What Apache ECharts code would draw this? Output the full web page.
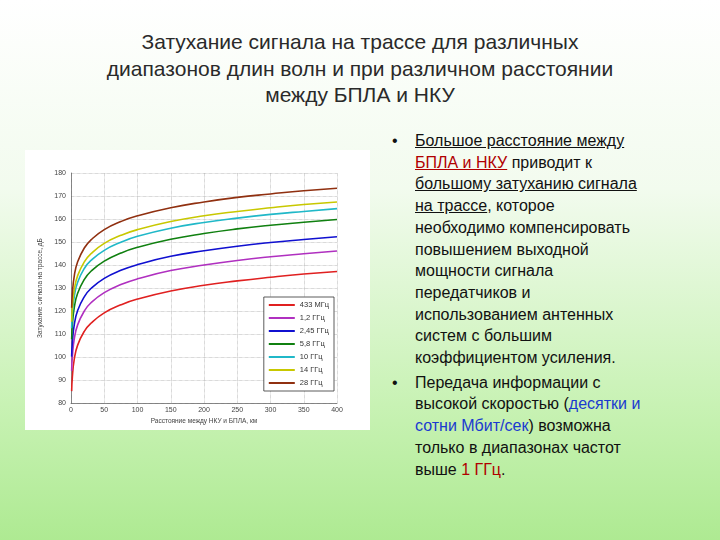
<!DOCTYPE html>
<html><head><meta charset="utf-8">
<script src="https://cdn.jsdelivr.net/npm/echarts@6/dist/echarts.min.js"></script>
<style>
html,body{margin:0;padding:0;width:720px;height:540px;overflow:hidden;}
body{background:linear-gradient(to bottom,#ffffff 0%,#f2fbee 35%,#c8f2b4 75%,#aeea92 100%);font-family:Arial,"Liberation Sans",sans-serif;position:relative;}
#title{position:absolute;left:40px;top:29px;width:640px;text-align:center;font-size:21px;line-height:26.5px;color:#2a2a2a;}
#chart{position:absolute;left:25px;top:150px;width:345px;height:280px;background:#fff;}
#text{position:absolute;left:385px;top:130px;width:300px;font-size:16px;line-height:21.7px;color:#111;}
.b{position:relative;padding-left:30px;}
.b:before{content:"•";position:absolute;left:7px;top:0;}
.r{color:#b00000;} .bl{color:#1a3ad0;} u{text-decoration:underline;}
</style></head><body>
<div id="title">Затухание сигнала на трассе для различных<br>диапазонов длин волн и при различном расстоянии<br>между БПЛА и НКУ</div>
<div id="chart"></div>
<div id="text">
<div class="b"><u>Большое расстояние между</u><br><u class="r">БПЛА и НКУ</u> приводит к<br><u>большому затуханию сигнала</u><br><u>на трассе</u>, которое<br>необходимо компенсировать<br>повышением выходной<br>мощности сигнала<br>передатчиков и<br>использованием антенных<br>систем с большим<br>коэффициентом усиления.</div>
<div class="b" style="margin-top:3px">Передача информации с<br>высокой скоростью (<span class="bl">десятки и<br>сотни Мбит/сек</span>) возможна<br>только в диапазонах частот<br>выше <span class="r">1 ГГц</span>.</div>
</div>
<script>
const distances=[1,2,5,10,20,30,50,75,100,150,200,250,300,350,400];
const names=['433 МГц','1,2 ГГц','2,45 ГГц','5,8 ГГц','10 ГГц','14 ГГц','28 ГГц'];
const colors=['#e02020','#b030c0','#1010d0','#108010','#20b8c8','#c8c800','#903010'];
const s433=[85.2,91.2,99.2,105.2,111.2,114.7,119.2,122.7,125.2,128.7,131.2,133.1,134.7,136.1,137.2];
const s1200=[94.0,100.0,108.0,114.0,120.0,123.6,128.0,131.5,134.0,137.6,140.0,142.0,143.6,144.9,146.1];
const s2450=[100.2,106.2,114.2,120.2,126.2,129.8,134.2,137.7,140.2,143.8,146.2,148.2,149.8,151.1,152.3];
const s5800=[107.7,113.7,121.7,127.7,133.7,137.3,141.7,145.2,147.7,151.2,153.7,155.7,157.3,158.6,159.8];
const s10000=[112.5,118.5,126.4,132.5,138.5,142.0,146.4,149.9,152.5,156.0,158.5,160.4,162.0,163.3,164.5];
const s14000=[115.4,121.4,129.4,135.4,141.4,144.9,149.4,152.9,155.4,158.9,161.4,163.3,164.9,166.3,167.4];
const s28000=[121.4,127.4,135.4,141.4,147.4,150.9,155.4,158.9,161.4,164.9,167.4,169.4,170.9,172.3,173.4];
const all=[s433,s1200,s2450,s5800,s10000,s14000,s28000];
const ch=echarts.init(document.getElementById('chart'));
const grid={type:'dotted',color:'#999',width:0.6};
ch.setOption({
 animation:false,
 grid:{left:46,right:33,top:23,bottom:23},
 legend:{orient:'vertical',right:36,top:147,itemWidth:26,itemHeight:2,itemGap:5,icon:'rect',
  backgroundColor:'#fff',borderColor:'#333',borderWidth:0.8,padding:[4,5],
  textStyle:{fontSize:7.5,color:'#333'},data:names},
 xAxis:{type:'value',min:0,max:400,interval:50,
  name:'Расстояние между НКУ и БПЛА, км',nameLocation:'middle',nameGap:11,nameTextStyle:{fontSize:6.5,color:'#444'},
  axisLine:{lineStyle:{color:'#444',width:0.6}},axisTick:{show:false},
  axisLabel:{fontSize:7,color:'#444',margin:3},splitLine:{lineStyle:grid}},
 yAxis:{type:'value',min:80,max:180,interval:10,
  name:'Затухание сигнала на трассе, дБ',nameLocation:'middle',nameGap:24,nameTextStyle:{fontSize:6.5,color:'#444'},
  axisLine:{show:true,lineStyle:{color:'#444',width:0.6}},axisTick:{show:false},
  axisLabel:{fontSize:7,color:'#444',margin:5},splitLine:{lineStyle:grid}},
 series:all.map((d,i)=>({name:names[i],type:'line',smooth:true,symbol:'none',
  lineStyle:{width:1.6,color:colors[i]},itemStyle:{color:colors[i]},
  data:d.map((v,j)=>[distances[j],v])}))
});
</script>
</body></html>
